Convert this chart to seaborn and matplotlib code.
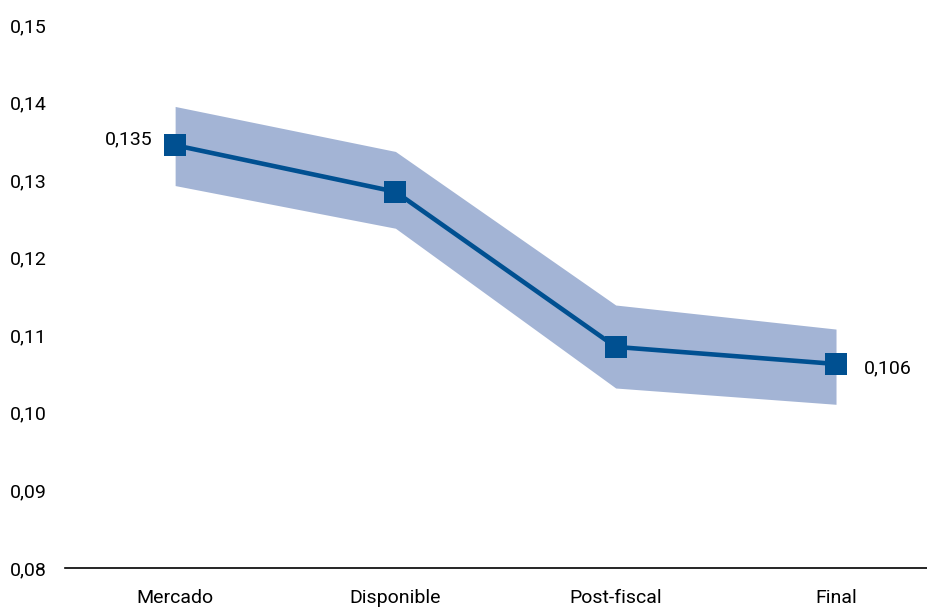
import matplotlib
matplotlib.use("Agg")
import matplotlib.pyplot as plt
import numpy as np
import pandas as pd
import seaborn as sns
from matplotlib.ticker import FuncFormatter

# data
categories = ["Mercado", "Disponible", "Post-fiscal", "Final"]
values = [0.1345, 0.1285, 0.1085, 0.1063]
band_low = [0.1293, 0.1238, 0.1032, 0.1011]
band_high = [0.1395, 0.1337, 0.1139, 0.1108]
end_labels = ["0,135", "0,106"]

line_color = "#005091"
band_color = "#a3b4d5"

sns.set_theme(style="white")
plt.rcParams["font.family"] = ["Roboto", "DejaVu Sans"]
plt.rcParams["text.color"] = "black"
plt.rcParams["xtick.color"] = "black"
plt.rcParams["ytick.color"] = "black"

df = pd.DataFrame({"cat": categories, "pos": np.arange(len(categories)), "val": values})

fig = plt.figure(figsize=(9.27, 6.07), dpi=100)
ax = fig.add_axes([0.0701, 0.0643, 0.9299, 0.8945])

ax.fill_between(df["pos"], band_low, band_high, color=band_color, linewidth=0, zorder=1)
sns.lineplot(data=df, x="pos", y="val", ax=ax, color=line_color, linewidth=3.3,
             marker="s", markersize=16.5, markeredgewidth=0, zorder=3)

# end labels
ax.annotate(end_labels[0], (df["pos"].iloc[0], values[0]), xytext=(-16, 4),
            textcoords="offset points", ha="right", va="center", fontsize=14)
ax.annotate(end_labels[1], (df["pos"].iloc[-1], values[-1]), xytext=(20, -3),
            textcoords="offset points", ha="left", va="center", fontsize=14)

ax.set_xlim(-0.5, 3.413)
ax.set_ylim(0.08, 0.15)
ax.set_yticks(np.arange(0.08, 0.1501, 0.01))
ax.yaxis.set_major_formatter(FuncFormatter(lambda v, p: f"{v:.2f}".replace(".", ",")))
ax.set_xticks(df["pos"])
ax.set_xticklabels(categories)
ax.tick_params(axis="y", length=0, pad=13, labelsize=14, labelcolor="black")
ax.tick_params(axis="x", length=0, pad=15, labelsize=14, labelcolor="black")
ax.set_xlabel("")
ax.set_ylabel("")

for s in ["top", "right", "left"]:
    ax.spines[s].set_visible(False)
ax.spines["bottom"].set_color("black")
ax.spines["bottom"].set_linewidth(1.2)

fig.savefig("out.png", dpi=100)
